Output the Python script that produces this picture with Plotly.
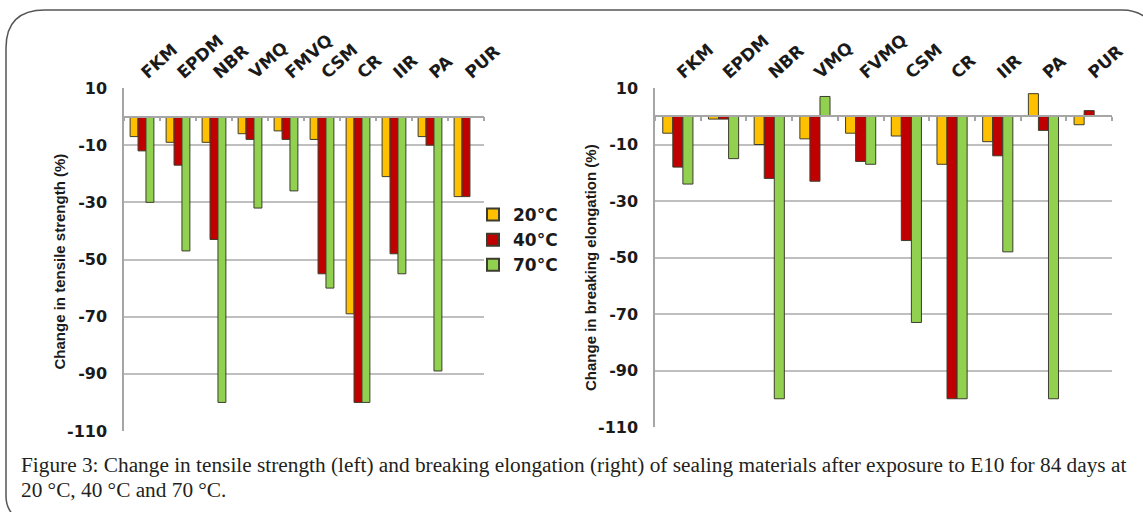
import numpy as np
import plotly.graph_objects as go

W, H = 1143, 512

categories_left = ["FKM", "EPDM", "NBR", "VMQ", "FMVQ", "CSM", "CR", "IIR", "PA", "PUR"]
categories_right = ["FKM", "EPDM", "NBR", "VMQ", "FVMQ", "CSM", "CR", "IIR", "PA", "PUR"]
series_names = ["20°C", "40°C", "70°C"]

tensile_20 = [-7, -9, -9, -6, -5, -8, -69, -21, -7, -28]
tensile_40 = [-12, -17, -43, -8, -8, -55, -100, -48, -10, -28]
tensile_70 = [-30, -47, -100, -32, -26, -60, -100, -55, -89, None]

elong_20 = [-6, -1, -10, -8, -6, -7, -17, -9, 8, -3]
elong_40 = [-18, -1, -22, -23, -16, -44, -100, -14, -5, 2]
elong_70 = [-24, -15, -100, 7, -17, -73, -100, -48, -100, None]

y_ticks = [10, -10, -30, -50, -70, -90, -110]
y_ticktext = ["10", "-10", "-30", "-50", "-70", "-90", "-110"]
y_range = [-110, 10]

caption_1 = "Figure 3: Change in tensile strength (left) and breaking elongation (right) of sealing materials after exposure to E10 for 84 days at"
caption_2 = "20 °C, 40 °C and 70 °C."

colors = ["#FFC000", "#C00000", "#92D050"]
outline = "#3d3d2e"
grid = "#BFBFBF"


def px(x):
    return x / W


def py(y):
    return 1 - y / H


# subplot geometry (pixels)
L = dict(x0=124, x1=484, y0=88, y1=431)
R = dict(x0=655, x1=1112, y0=88, y1=427)

fig = go.Figure()

for name, vals, c in zip(series_names, [tensile_20, tensile_40, tensile_70], colors):
    fig.add_trace(go.Bar(x=categories_left, y=vals, name=name, marker=dict(color=c, line=dict(color=outline, width=1)),
                         xaxis="x", yaxis="y", legendgroup=name))
for name, vals, c in zip(series_names, [elong_20, elong_40, elong_70], colors):
    fig.add_trace(go.Bar(x=categories_right, y=vals, name=name, marker=dict(color=c, line=dict(color=outline, width=1)),
                         xaxis="x2", yaxis="y2", legendgroup=name, showlegend=False))

# dummy traces so that the zero-line axes are drawn
fig.add_trace(go.Scatter(x=[], y=[], xaxis="x3", yaxis="y", showlegend=False, hoverinfo="skip"))
fig.add_trace(go.Scatter(x=[], y=[], xaxis="x4", yaxis="y2", showlegend=False, hoverinfo="skip"))


def zero_pos(g):
    b, t = py(g["y1"]), py(g["y0"])
    return b + (0 - y_range[0]) / (y_range[1] - y_range[0]) * (t - b)


tickfont = dict(family="DejaVu Sans", size=16, color="#1a1a1a", weight="bold")
catfont = dict(family="DejaVu Sans", size=17, color="#1a1a1a", weight="bold")

n = len(categories_left)
bounds = list(np.arange(-0.5, n, 1.0))


def cat_axis(g, anchor):
    return dict(domain=[px(g["x0"]), px(g["x1"])], anchor=anchor, type="category", side="top", tickangle=-42,
                showgrid=False, showline=False, ticks="", tickfont=catfont, fixedrange=True,
                automargin=False, ticklabelstandoff=2)


def zero_axis(g, over):
    return dict(overlaying=over, anchor="free", position=zero_pos(g), side="bottom",
                range=[-0.5, n - 0.5], tickvals=bounds, showticklabels=False,
                ticks="outside", ticklen=4, tickcolor="#A6A6A6", tickwidth=1.5, automargin=False,
                showline=True, linecolor="#A6A6A6", linewidth=1.5, showgrid=False, zeroline=False)


def val_axis(g, anchor):
    return dict(domain=[py(g["y1"]), py(g["y0"])], anchor=anchor, range=y_range, automargin=False,
                tickvals=y_ticks, ticktext=y_ticktext, tickfont=tickfont,
                showgrid=True, gridcolor=grid, gridwidth=1.5, zeroline=False,
                showline=True, linecolor="#A6A6A6", linewidth=1.5, ticks="", ticklabelstandoff=12)


fig.update_layout(
    width=W, height=H,
    margin=dict(l=0, r=0, t=0, b=0, pad=0, autoexpand=False),
    paper_bgcolor="white", plot_bgcolor="white",
    barmode="group",
    bargap=0.34,
    xaxis=cat_axis(L, "y"),
    xaxis2=cat_axis(R, "y2"),
    xaxis3=zero_axis(L, "x"),
    xaxis4=zero_axis(R, "x2"),
    yaxis=val_axis(L, "x"),
    yaxis2=val_axis(R, "x2"),
    legend=dict(x=px(473), y=py(197), xanchor="left", yanchor="top",
                font=dict(family="DejaVu Sans", size=17, color="#1a1a1a", weight="bold"),
                bgcolor="rgba(0,0,0,0)", itemsizing="constant", tracegroupgap=0),
    showlegend=True,
)

title_font = dict(family="Liberation Sans", size=15, color="#1a1a1a", weight="bold")
cap_font = dict(family="Liberation Serif", size=21.3, color="#231f20")
annots = [
    dict(text="Change in tensile strength (%)", x=px(48), y=py(262), xref="paper", yref="paper",
         textangle=-90, showarrow=False, font=title_font),
    dict(text="Change in breaking elongation (%)", x=px(590), y=py(268), xref="paper", yref="paper",
         textangle=-90, showarrow=False, font=title_font),
    dict(text=caption_1, x=px(19), y=py(465), xref="paper", yref="paper", xanchor="left", yanchor="middle",
         align="left", showarrow=False, font=cap_font),
    dict(text=caption_2, x=px(19), y=py(490), xref="paper", yref="paper", xanchor="left", yanchor="middle",
         align="left", showarrow=False, font=cap_font),
]
fig.update_layout(annotations=annots)


def path_from(points):
    parts = []
    for cmd, *coords in points:
        xy = []
        for i in range(0, len(coords), 2):
            xy.append(f"{px(coords[i]):.5f},{py(coords[i+1]):.5f}")
        parts.append(cmd + " " + " ".join(xy))
    return " ".join(parts)


frame = path_from([
    ("M", 20, 520), ("Q", 6, 512, 6, 496), ("L", 6, 48), ("Q", 6, 10, 45, 10),
    ("L", 1122, 10), ("Q", 1140, 10, 1150, 22),
])
fig.add_shape(type="path", path=frame, xref="paper", yref="paper", line=dict(color="#555555", width=1.5))

fig.write_html("out.html", config={"displayModeBar": False},
               post_script="document.body.style.margin='0';document.body.style.overflow='hidden';")
